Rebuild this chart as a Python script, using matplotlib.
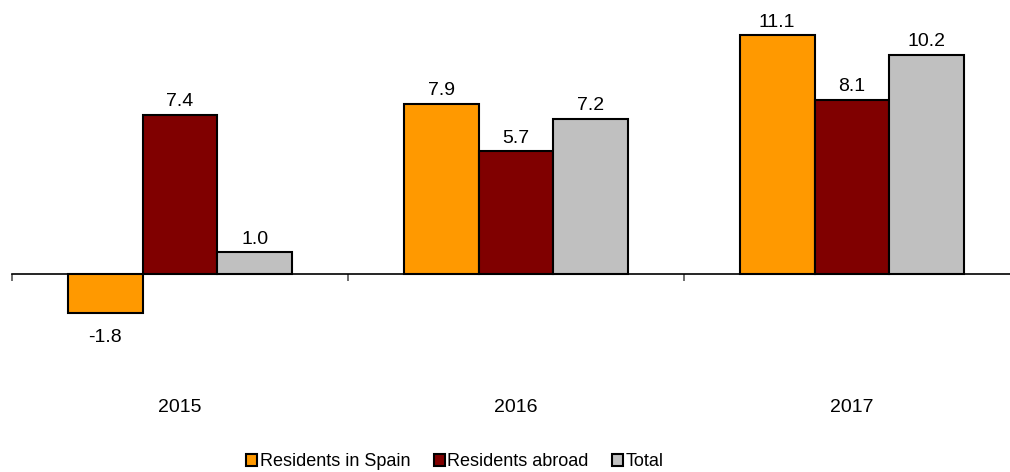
import numpy as np
import matplotlib
matplotlib.use("Agg")
import matplotlib.pyplot as plt
from matplotlib.patches import Patch
from matplotlib.transforms import blended_transform_factory

plt.rcParams['font.family'] = ['Liberation Sans', 'DejaVu Sans']

years = ["2015", "2016", "2017"]
series_names = ["Residents in Spain", "Residents abroad", "Total"]
residents_spain = [-1.8, 7.9, 11.1]
residents_abroad = [7.4, 5.7, 8.1]
total = [1.0, 7.2, 10.2]
colors = ["#FF9900", "#800000", "#C0C0C0"]

W, H = 1010, 472
fig = plt.figure(figsize=(W / 100, H / 100), dpi=100)
# axes in pixel coords: left 12, right 1020 (runs past the edge), top 20, bottom 360
ax = fig.add_axes([12 / W, 1 - 360 / H, (1020 - 12) / W, 340 / H])

x = np.arange(len(years))
bw = 0.223
all_series = [residents_spain, residents_abroad, total]
for i, vals in enumerate(all_series):
    pos = x + (i - 1) * bw
    bars = ax.bar(pos, vals, width=bw, color=colors[i], edgecolor="black", linewidth=1.5)
    for b, v in zip(bars, vals):
        if v >= 0:
            ax.text(b.get_x() + b.get_width() / 2, v + 0.22, f"{v:.1f}",
                    ha="center", va="bottom", fontsize=14)
        else:
            ax.text(b.get_x() + b.get_width() / 2, v - 0.75, f"{v:.1f}",
                    ha="center", va="top", fontsize=14)

ax.set_xlim(-0.5, 2.5)
ax.set_ylim(-4.0, 11.81)
for s in ["top", "right", "left"]:
    ax.spines[s].set_visible(False)
ax.spines["bottom"].set_position(("data", 0))
ax.spines["bottom"].set_linewidth(1.2)
ax.spines["bottom"].set_clip_on(False)
ax.set_yticks([])
ax.set_xticks([-0.5, 0.5, 1.5])
ax.set_xticklabels([])
ax.tick_params(axis="x", direction="out", length=5, width=1.2, color="#555555")

trans = blended_transform_factory(ax.transData, fig.transFigure)
for xi, yr in zip(x, years):
    ax.text(xi, 1 - 407 / H, yr, transform=trans, ha="center", va="center", fontsize=14)

handles = [Patch(facecolor=c, edgecolor="black", linewidth=1.5) for c in colors]
fig.legend(handles, series_names, loc="center", bbox_to_anchor=(455 / W, 1 - 462 / H),
           ncol=3, frameon=False, fontsize=13, handlelength=0.6, handleheight=0.6,
           handletextpad=0.15, columnspacing=1.3)

fig.savefig("out.png", dpi=100)
